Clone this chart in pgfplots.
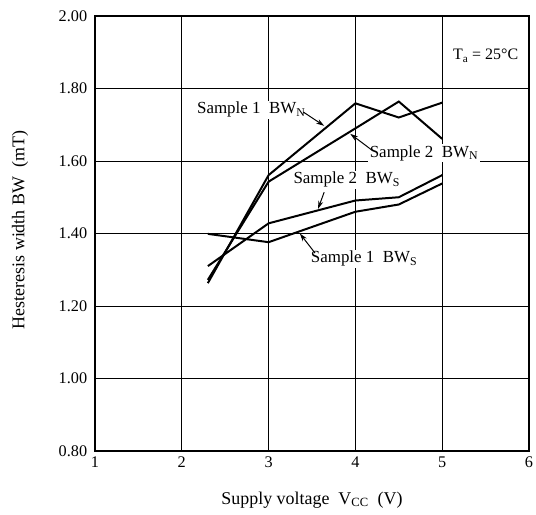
\documentclass[border=0pt]{standalone}
\usepackage{pgfplots}
\pgfplotsset{compat=1.18}
\usepackage{fontspec}
\setmainfont{Liberation Serif}
\usetikzlibrary{arrows.meta}
\begin{document}
\fontsize{17}{20}\selectfont
\begin{tikzpicture}[x=1bp,y=1bp]
\path[use as bounding box] (-95,-64) rectangle (441,451);
\begin{axis}[at={(0,0)}, anchor=south west, scale only axis,
  width=434bp, height=435bp,
  xmin=1, xmax=6, ymin=0.8, ymax=2.0,
  xtick={1,2,3,4,5,6},
  ytick={0.8,1,1.2,1.4,1.6,1.8,2},
  yticklabel style={/pgf/number format/fixed, /pgf/number format/fixed zerofill, /pgf/number format/precision=2, xshift=-2bp},
  /pgf/number format/assume math mode=true,
  ticklabel style={font=\fontsize{16.3}{18}\selectfont},
  grid=major, major grid style={black, line width=0.7pt},
  axis line style={line width=1.2pt},
  major tick length=0pt,
  clip=false]
\node[fill=white, inner sep=1.5pt] at (axis cs:2.80,1.741) {Sample 1\ \ BW\textsubscript{N}};
\node[fill=white, inner sep=1.5pt] at (axis cs:4.79,1.622) {Sample 2\ \ BW\textsubscript{N}};
\node[fill=white, inner sep=1.5pt] at (axis cs:3.90,1.548) {Sample 2\ \ BW\textsubscript{S}};
\node[fill=white, inner sep=1.5pt] at (axis cs:4.10,1.330) {Sample 1\ \ BW\textsubscript{S}};
\node[font=\fontsize{16}{18}\selectfont] at (axis cs:5.50,1.890) {T\textsubscript{a} = 25°C};
\addplot[black, line width=2pt, sharp plot] coordinates {(2.3,1.263) (3,1.561) (4,1.759) (4.5,1.72) (5,1.761)};
\addplot[black, line width=2pt, sharp plot] coordinates {(2.3,1.272) (3,1.543) (4,1.69) (4.5,1.764) (5,1.661)};
\addplot[black, line width=2pt, sharp plot] coordinates {(2.3,1.310) (3,1.428) (4,1.491) (4.5,1.50) (5,1.561)};
\addplot[black, line width=2pt, sharp plot] coordinates {(2.3,1.399) (3,1.376) (4,1.46) (4.5,1.48) (5,1.538)};
\draw[-{Stealth[length=8pt,width=5pt]}, line width=1pt] (axis cs:3.40,1.735) -- (axis cs:3.64,1.697);
\draw[-{Stealth[length=8pt,width=5pt]}, line width=1pt] (axis cs:4.19,1.630) -- (axis cs:3.94,1.675);
\draw[-{Stealth[length=8pt,width=5pt]}, line width=1pt] (axis cs:3.64,1.514) -- (axis cs:3.57,1.468);
\draw[-{Stealth[length=8pt,width=5pt]}, line width=1pt] (axis cs:3.535,1.346) -- (axis cs:3.36,1.400);
\end{axis}
\node[font=\fontsize{18}{21}\selectfont] at (217,-49) {Supply voltage\ \ V\textsubscript{CC}\ \ (V)};
\node[rotate=90, font=\fontsize{18}{21}\selectfont] at (-75,221) {Hesteresis width BW\ \ (mT)};
\end{tikzpicture}
\end{document}
